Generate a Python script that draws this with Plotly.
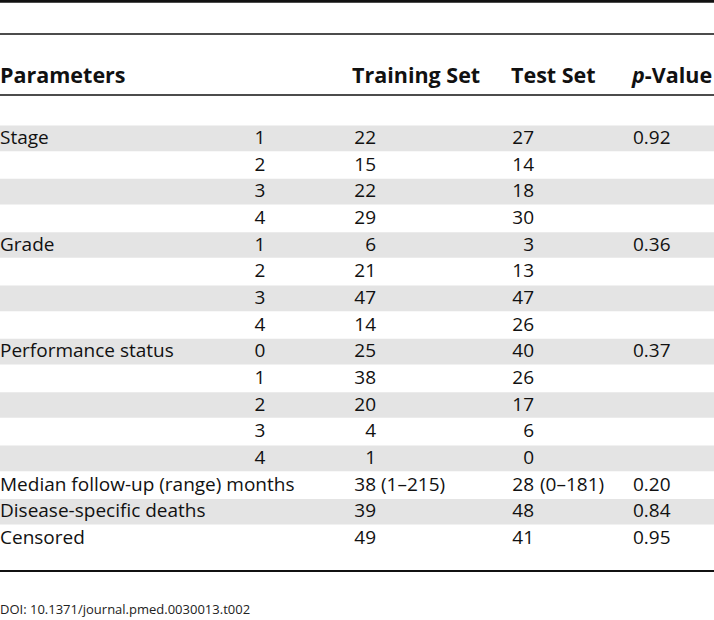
import plotly.graph_objects as go

# ---- data ----
headers = ["Parameters", "Training Set", "Test Set", "<i>p</i>-Value"]
params = ["Stage", "", "", "", "Grade", "", "", "", "Performance status", "", "", "", "",
          "Median follow-up (range) months", "Disease-specific deaths", "Censored"]
levels = ["1", "2", "3", "4", "1", "2", "3", "4", "0", "1", "2", "3", "4", "", "", ""]
training = ["22", "15", "22", "29", "6", "21", "47", "14", "25", "38", "20", "4", "1",
            "38 (1–215)", "39", "49"]
test = ["27", "14", "18", "30", "3", "13", "47", "26", "40", "26", "17", "6", "0",
        "28 (0–181)", "48", "41"]
pvalues = ["0.92", "", "", "", "0.36", "", "", "", "0.37", "", "", "", "", "0.20", "0.84", "0.95"]
doi = "DOI: 10.1371/journal.pmed.0030013.t002"

# ---- layout constants ----
W, H = 714, 620
FONT = "Open Sans"
FS = 19
row_top0 = 125.0
row_h = 26.67
x_param, x_level = 0, 260
x_train_r, x_test_r = 376, 534
x_train_suf, x_test_suf = 381, 540
x_p = 633
shade = "#e4e4e4"

n = len(params)
yc = [row_top0 + row_h * (i + 0.5) + 1 for i in range(n)]

fig = go.Figure()

shapes = []
shade_rows = [i for i in range(n) if (i < 13 and i % 2 == 0) or i == 14]
for i in shade_rows:
    y0 = row_top0 + row_h * i
    shapes.append(dict(type="rect", xref="x", yref="y", x0=0, x1=W, y0=y0 + 0.5, y1=y0 + row_h - 0.5,
                       fillcolor=shade, line=dict(width=0), layer="below"))
# rules
for y, w in [(1.2, 3), (34, 1.6), (95, 1.6), (571, 1.8)]:
    shapes.append(dict(type="line", xref="x", yref="y", x0=0, x1=W, y0=y, y1=y,
                       line=dict(color="#111111", width=w)))

def split(v):
    parts = v.split(" ", 1)
    return parts[0], (parts[1] if len(parts) > 1 else "")

tr_main = [split(v)[0] for v in training]
tr_suf = [split(v)[1] for v in training]
te_main = [split(v)[0] for v in test]
te_suf = [split(v)[1] for v in test]

tf = dict(family=FONT, size=FS, color="#111111")

def add_text(xs, ys, texts, pos, font=tf):
    fig.add_trace(go.Scatter(x=xs, y=ys, text=texts, mode="text", textposition=pos,
                             textfont=font, hoverinfo="skip", showlegend=False, cliponaxis=False))

add_text([x_param] * n, yc, params, "middle right")
add_text([x_level] * n, yc, levels, "middle center")
add_text([x_train_r] * n, yc, tr_main, "middle left")
add_text([x_train_suf] * n, yc, tr_suf, "middle right")
add_text([x_test_r] * n, yc, te_main, "middle left")
add_text([x_test_suf] * n, yc, te_suf, "middle right")
add_text([x_p] * n, yc, pvalues, "middle right")

# header
hx = [0, 352, 511, 632]
add_text(hx, [78] * 4, ["<b>%s</b>" % h for h in headers], "middle right",
         dict(family=FONT, size=21.5, color="#111111"))

# doi
add_text([0], [611], [doi], "middle right", dict(family=FONT, size=13, color="#222222"))

fig.update_layout(
    width=W, height=H, margin=dict(l=0, r=0, t=0, b=0),
    paper_bgcolor="white", plot_bgcolor="white",
    xaxis=dict(range=[0, W], visible=False, fixedrange=True),
    yaxis=dict(range=[H, 0], visible=False, fixedrange=True),
    shapes=shapes,
)

fig.write_html("out.html", config={"displayModeBar": False},
               post_script="document.body.style.margin='0';document.body.style.overflow='hidden';")
